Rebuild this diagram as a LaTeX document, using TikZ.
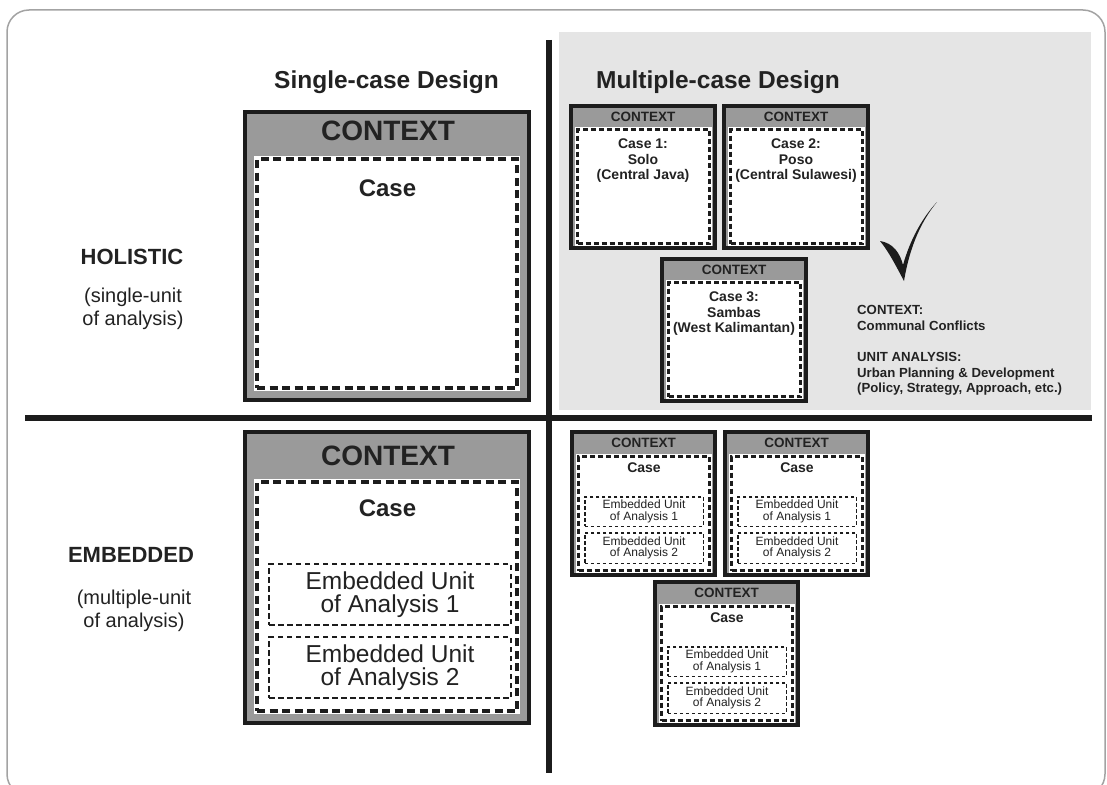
\documentclass[tikz,border=0pt]{standalone}
\usepackage{fontspec}
\setmainfont{Liberation Sans}
\begin{document}
\definecolor{ink}{HTML}{222222}
\definecolor{boxrim}{HTML}{1C1C1C}
\definecolor{boxgray}{HTML}{9A9A9A}
\definecolor{panelgray}{HTML}{E5E5E5}
\definecolor{framegray}{HTML}{A3A3A3}
\newcommand\pxfont[1]{\fontsize{#1}{#1}\selectfont}
\tikzset{
  shapebox/.style={rectangle, inner sep=0pt, outer sep=0pt},
  bigouter/.style={shapebox, fill=boxgray, draw=boxrim, line width=4pt},
  smallouter/.style={shapebox, fill=boxgray, draw=boxrim, line width=4pt},
  bigcase/.style={shapebox, fill=white, draw=boxrim, line width=4pt,
    dash pattern=on 8pt off 4.5pt, preaction={draw=white, line width=5.5pt, solid}},
  smallcase/.style={shapebox, fill=white, draw=boxrim, line width=3pt,
    dash pattern=on 5pt off 3pt, preaction={draw=white, line width=4.5pt, solid}},
  bigunit/.style={shapebox, fill=white, draw=boxrim, line width=2pt,
    dash pattern=on 5.5pt off 3.5pt, text=ink, align=center,
    font=\fontsize{24.5}{22.5}\selectfont},
  smallunit/.style={shapebox, fill=white, draw=boxrim, line width=1.5pt,
    dash pattern=on 3.5pt off 2.5pt, text=ink, align=center,
    font=\fontsize{12}{11.5}\selectfont},
  bighead/.style={inner sep=0pt, text=ink, font=\pxfont{28}\bfseries},
  bigcaselabel/.style={inner sep=0pt, text=ink, font=\pxfont{24}\bfseries},
  smallhead/.style={inner sep=0pt, text=ink, font=\pxfont{13.5}\bfseries},
  caselabel/.style={inner sep=0pt, text=ink, align=center,
    font=\fontsize{14}{15.5}\selectfont\bfseries},
  title/.style={inner sep=0pt, text=ink, font=\pxfont{24.5}\bfseries},
  rowhead/.style={inner sep=0pt, text=ink, font=\pxfont{22}\bfseries},
  rowsub/.style={inner sep=0pt, text=ink, align=center,
    font=\fontsize{20}{23}\selectfont},
  note/.style={inner sep=0pt, text=ink, anchor=base west,
    font=\pxfont{13.2}\bfseries},
  divider/.style={line width=6pt, draw=boxrim},
  % a single case of the holistic multiple-case design
  pics/holocase/.style={code={
    \node[smallouter, minimum width=144, minimum height=142] (-outer) at (74,73) {};
    \node[smallhead] (-head) at (74,12.5) {CONTEXT};
    \node[smallcase, minimum width=132, minimum height=114] (-case) at (74.5,82.5) {};
    \node[caselabel] (-label) at (74,57) {#1};
  }},
  % a single case of the embedded multiple-case design
  pics/embcase/.style={code={
    \node[smallouter, minimum width=143, minimum height=143] (-outer) at (73.5,73.5) {};
    \node[smallhead] (-head) at (73.5,13) {CONTEXT};
    \node[smallcase, minimum width=131, minimum height=114] (-case) at (74,83.5) {};
    \node[caselabel] (-label) at (74,38) {Case};
    \node[smallunit, minimum width=118.5, minimum height=29.5] (-unitA) at (74,81.5)
      {Embedded Unit\\of Analysis 1};
    \node[smallunit, minimum width=118.5, minimum height=30.5] (-unitB) at (74,118)
      {Embedded Unit\\of Analysis 2};
  }},
}
\begin{tikzpicture}[x=1pt, y=-1pt]
\useasboundingbox (0,0) rectangle (1107,784);

% rounded outer frame
\begin{scope}
  \clip (0,0) rectangle (1107,784);
  \draw[framegray, line width=1.5pt, rounded corners=22pt] (7,10) rectangle (1105,796);
\end{scope}

% shaded quadrant
\fill[panelgray] (559,32) rectangle (1091,410);

% quadrant dividers
\coordinate (hl) at (25,418);
\coordinate (hr) at (1092,418);
\coordinate (vt) at (549,40);
\coordinate (vb) at (549,773);
\draw[divider] (hl) -- (hr);
\draw[divider] (vt) -- (vb);

% column titles
\node[title] (tsingle) at (386.5,82) {Single-case Design};
\node[title] (tmulti) at (718,82) {Multiple-case Design};

% row headings
\node[rowhead] (rholistic) at (132,257) {HOLISTIC};
\node[rowsub] (rholisticsub) at (133,308.5) {(single-unit\\of analysis)};
\node[rowhead] (rembedded) at (131,555) {EMBEDDED};
\node[rowsub] (rembeddedsub) at (134,611) {(multiple-unit\\of analysis)};

% holistic single-case design
\node[bigouter, minimum width=284, minimum height=288] (hsouter) at (387,256) {};
\node[bighead] (hshead) at (388,130.5) {CONTEXT};
\node[bigcase, minimum width=260, minimum height=229] (hscase) at (387,273.5) {};
\node[bigcaselabel] (hslabel) at (387.5,188) {Case};

% embedded single-case design
\node[bigouter, minimum width=284, minimum height=291] (esouter) at (387,577.5) {};
\node[bighead] (eshead) at (388,455.5) {CONTEXT};
\node[bigcase, minimum width=260, minimum height=229] (escase) at (387,596.5) {};
\node[bigcaselabel] (eslabel) at (387.5,508) {Case};
\node[bigunit, minimum width=242, minimum height=61] (esunitA) at (390,594.5)
  {Embedded Unit\\of Analysis 1};
\node[bigunit, minimum width=242, minimum height=61] (esunitB) at (390,667.5)
  {Embedded Unit\\of Analysis 2};

% holistic multiple-case design
\pic (hc1) at (569,104) {holocase={Case 1:\\Solo\\(Central Java)}};
\pic (hc2) at (722,104) {holocase={Case 2:\\Poso\\(Central Sulawesi)}};
\pic (hc3) at (660,257) {holocase={Case 3:\\Sambas\\(West Kalimantan)}};

% check mark
\fill[boxrim] (880,241) .. controls (893,243) and (900,253) .. (903,265)
  .. controls (910,240) and (922,218) .. (937,202)
  .. controls (922,220) and (910,245) .. (904,281)
  .. controls (896,266) and (889,252) .. (880,241) -- cycle;

% notes
\node[note] (n1) at (857,314.5) {CONTEXT:};
\node[note] (n2) at (857,330.5) {Communal Conflicts};
\node[note] (n3) at (857,361.5) {UNIT ANALYSIS:};
\node[note] (n4) at (857,377) {Urban Planning \& Development};
\node[note] (n5) at (857,392.5) {(Policy, Strategy, Approach, etc.)};

% embedded multiple-case design
\pic (ec1) at (570,430) {embcase};
\pic (ec2) at (723,430) {embcase};
\pic (ec3) at (653,580) {embcase};
\end{tikzpicture}
\end{document}
